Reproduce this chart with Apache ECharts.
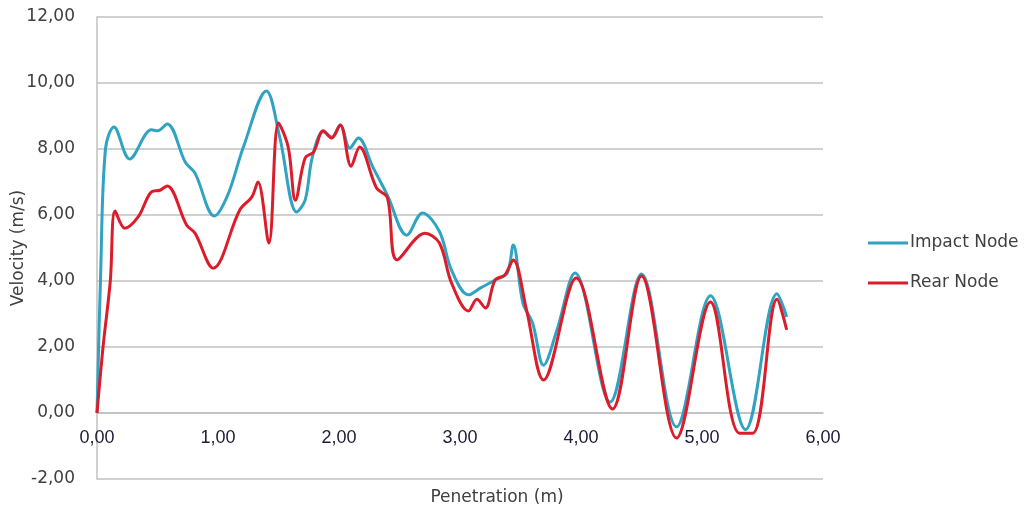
<!DOCTYPE html>
<html>
<head>
<meta charset="utf-8">
<script src="https://cdn.jsdelivr.net/npm/echarts@6/dist/echarts.min.js"></script>
<style>
  html, body { margin: 0; padding: 0; background: #fff; }
  #chart { width: 1027px; height: 513px; }
</style>
</head>
<body>
<div id="chart"></div>
<script>
// penetration (m) / velocity (m/s)
const impactX = [0, 0.03, 0.07, 0.14, 0.27, 0.45, 0.50, 0.58, 0.73, 0.81, 0.97, 1.08, 1.21, 1.40, 1.51, 1.65, 1.72, 1.78, 1.87, 1.94, 2.01, 2.09, 2.16, 2.28, 2.40, 2.56, 2.69, 2.83, 2.93, 3.07, 3.17, 3.29, 3.39, 3.44, 3.52, 3.60, 3.69, 3.80, 3.95, 4.24, 4.50, 4.79, 5.07, 5.36, 5.62, 5.70];
const impactV = [0, 4.2, 8.0, 8.67, 7.7, 8.58, 8.55, 8.76, 7.6, 7.27, 5.97, 6.6, 8.06, 9.76, 8.36, 6.09, 6.45, 7.76, 8.52, 8.36, 8.73, 8.03, 8.33, 7.45, 6.6, 5.39, 6.06, 5.5, 4.33, 3.58, 3.79, 4.03, 4.24, 5.09, 3.33, 2.73, 1.45, 2.5, 4.24, 0.33, 4.21, -0.42, 3.55, -0.5, 3.61, 2.91];

const rearX = [0, 0.05, 0.11, 0.15, 0.23, 0.34, 0.45, 0.52, 0.58, 0.74, 0.81, 0.96, 1.18, 1.28, 1.33, 1.42, 1.50, 1.58, 1.64, 1.72, 1.79, 1.87, 1.94, 2.01, 2.10, 2.17, 2.31, 2.40, 2.48, 2.71, 2.83, 2.93, 3.07, 3.14, 3.21, 3.29, 3.37, 3.44, 3.55, 3.69, 3.96, 4.26, 4.50, 4.79, 5.07, 5.31, 5.42, 5.62, 5.70];
const rearV = [0, 2.0, 4.0, 6.12, 5.6, 5.94, 6.7, 6.75, 6.88, 5.7, 5.45, 4.39, 6.15, 6.55, 7.0, 5.15, 8.79, 8.06, 6.45, 7.73, 7.91, 8.55, 8.33, 8.73, 7.48, 8.06, 6.82, 6.52, 4.64, 5.45, 5.15, 3.94, 3.09, 3.45, 3.18, 4.03, 4.18, 4.64, 3.12, 1.0, 4.09, 0.12, 4.15, -0.76, 3.36, -0.61, -0.61, 3.45, 2.52];

const seriesNames = ['Impact Node', 'Rear Node'];
const seriesColors = ['#31a3c2', '#dc1c2a'];

function pairs(xs, ys) {
  return xs.map((x, i) => [x, ys[i]]);
}

function comma(v) {
  return v.toFixed(2).replace('.', ',');
}

const textFont = 'DejaVu Sans';
const textColor = '#404040';
const gridColor = '#c0c0c0';

const chart = echarts.init(document.getElementById('chart'));

chart.setOption({
  animation: false,
  grid: { left: 97, right: 204, top: 17, bottom: 34, outerBoundsMode: 'none', containLabel: false },
  legend: {
    orient: 'vertical',
    left: 868,
    top: 233,
    padding: 0,
    itemGap: 20,
    itemWidth: 40,
    itemHeight: 3,
    icon: 'rect',
    textStyle: { fontFamily: textFont, fontSize: 17, lineHeight: 20, color: textColor, padding: [0, 0, 0, -3] },
    data: seriesNames
  },
  xAxis: {
    type: 'value',
    min: 0,
    max: 6,
    interval: 1,
    // labels sit just under the zero line, as in the original
    offset: -66,
    name: 'Penetration (m)',
    nameLocation: 'middle',
    nameGap: 76,
    nameMoveOverlap: false,
    nameTextStyle: { fontFamily: textFont, fontSize: 17, color: textColor, padding: [0, 0, 0, 74] },
    axisLine: { onZero: false, lineStyle: { color: gridColor, width: 1.5 } },
    axisTick: { show: false },
    splitLine: { show: false },
    axisLabel: {
      margin: 16,
      fontFamily: 'Liberation Sans',
      fontSize: 18,
      color: '#1c1c38',
      formatter: comma
    }
  },
  yAxis: {
    type: 'value',
    min: -2,
    max: 12,
    interval: 2,
    name: 'Velocity (m/s)',
    nameLocation: 'middle',
    nameGap: 70,
    nameMoveOverlap: false,
    nameTextStyle: { fontFamily: textFont, fontSize: 17, color: textColor },
    axisLine: { show: true, lineStyle: { color: gridColor, width: 1.5 } },
    axisTick: { show: false },
    splitLine: { lineStyle: { color: gridColor, width: 1.5 } },
    axisLabel: {
      margin: 22,
      fontFamily: textFont,
      fontSize: 17,
      color: textColor,
      formatter: comma
    }
  },
  series: [
    {
      name: seriesNames[0],
      type: 'line',
      data: pairs(impactX, impactV),
      smooth: 0.35,
      showSymbol: false,
      lineStyle: { width: 3, color: seriesColors[0] },
      itemStyle: { color: seriesColors[0] }
    },
    {
      name: seriesNames[1],
      type: 'line',
      data: pairs(rearX, rearV),
      smooth: 0.35,
      showSymbol: false,
      lineStyle: { width: 3, color: seriesColors[1] },
      itemStyle: { color: seriesColors[1] }
    }
  ]
});
</script>
</body>
</html>
